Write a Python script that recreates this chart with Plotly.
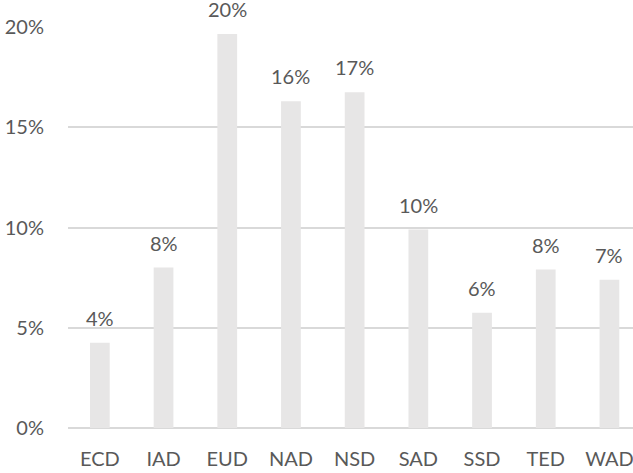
import plotly.graph_objects as go

# data
regions = ["ECD", "IAD", "EUD", "NAD", "NSD", "SAD", "SSD", "TED", "WAD"]
shares = [0.0425, 0.080, 0.1965, 0.163, 0.1675, 0.099, 0.0575, 0.079, 0.074]
y_ticks = [0, 0.05, 0.10, 0.15, 0.20]

font_gray = "#595959"
grid_gray = "#d9d9d9"

fig = go.Figure(go.Bar(
    x=regions,
    y=shares,
    marker=dict(color="#e7e6e6", line=dict(width=0)),
    hoverinfo="skip",
))

# percentage labels above the bars
for r, v in zip(regions, shares):
    fig.add_annotation(
        x=r, y=v, text=f"{round(v*100)}%",
        showarrow=False, yanchor="bottom", yshift=11,
        font=dict(family="Lato", size=20, color=font_gray),
    )

fig.update_layout(
    width=633, height=473,
    margin=dict(l=68, r=0, t=27, b=45, autoexpand=False),
    paper_bgcolor="white", plot_bgcolor="white",
    bargap=0.69,
    showlegend=False,
    font=dict(family="Lato", size=20, color=font_gray),
    xaxis=dict(
        range=[-0.5, 8.37], showgrid=False, showline=False,
        ticks="outside", ticklen=13, tickcolor="rgba(0,0,0,0)",
    ),
    yaxis=dict(
        range=[0, 0.20], tickvals=y_ticks, tickformat=".0%",
        showgrid=True, gridcolor=grid_gray, gridwidth=1.5,
        zeroline=True, zerolinecolor=grid_gray, zerolinewidth=1.5,
        showline=False, ticks="outside", ticklen=19, tickcolor="rgba(0,0,0,0)",
    ),
)

fig.write_html(
    "out.html",
    config={"displayModeBar": False},
    post_script="document.body.style.margin='0';",
)
